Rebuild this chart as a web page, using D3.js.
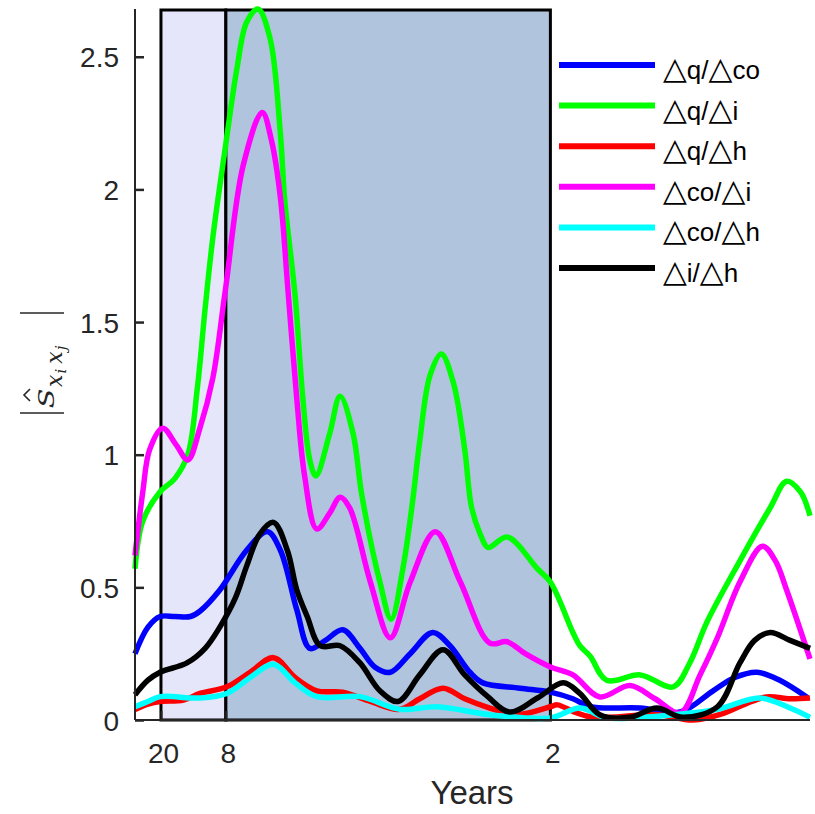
<!DOCTYPE html>
<html><head><meta charset="utf-8">
<script src="https://cdn.jsdelivr.net/npm/d3@7"></script>
<style>body{margin:0;background:#fff}svg{display:block}</style>
</head><body>
<script>
// ---- data (x = frequency in cycles per year) ----
const tickYears = [20, 8, 2];
const tickLabels = ["20", "8", "2"];
const bandYears = [[20, 8], [8, 2]];
const bandColors = ["#e6e6fa", "#b0c4de"];
const yTicks = [0, 0.5, 1, 1.5, 2, 2.5];
const yTickLabels = ["0", "0.5", "1", "1.5", "2", "2.5"];

const seriesNames = ["q/co", "q/i", "q/h", "co/i", "co/h", "i/h"];
const seriesColors = ["#0000ff", "#00ff00", "#ff0000", "#ff00ff", "#00ffff", "#000000"];

const fBlue  = [0.020,0.035,0.049,0.066,0.084,0.095,0.118,0.149,0.173,0.188,0.207,0.222,0.240,0.260,0.280,0.297,0.315,0.338,0.364,0.384,0.407,0.422,0.465,0.500,0.526,0.546,0.604,0.650,0.688,0.713,0.739,0.765,0.797];
const vBlue  = [0.25,0.35,0.39,0.39,0.39,0.41,0.49,0.64,0.71,0.64,0.415,0.27,0.30,0.34,0.27,0.20,0.18,0.25,0.33,0.28,0.18,0.14,0.12,0.105,0.08,0.05,0.045,0.03,0.11,0.16,0.18,0.15,0.085];

const fGreen = [0.020,0.029,0.049,0.066,0.081,0.092,0.101,0.110,0.124,0.138,0.149,0.162,0.176,0.188,0.193,0.205,0.214,0.222,0.229,0.245,0.257,0.272,0.282,0.303,0.316,0.330,0.341,0.349,0.361,0.374,0.388,0.401,0.409,0.419,0.428,0.450,0.485,0.500,0.526,0.534,0.546,0.565,0.604,0.642,0.661,0.681,0.719,0.754,0.773,0.789,0.800];
const vGreen = [0.57,0.75,0.86,0.91,1.00,1.25,1.55,1.82,2.15,2.46,2.63,2.68,2.57,2.21,1.96,1.60,1.21,0.98,0.92,1.08,1.22,1.08,0.85,0.52,0.38,0.58,0.83,1.05,1.30,1.38,1.27,1.02,0.80,0.70,0.65,0.69,0.57,0.52,0.33,0.28,0.24,0.15,0.17,0.125,0.215,0.37,0.60,0.80,0.90,0.86,0.77];

const fRed   = [0.020,0.035,0.049,0.076,0.095,0.126,0.153,0.180,0.205,0.230,0.260,0.292,0.326,0.349,0.376,0.401,0.430,0.461,0.500,0.508,0.528,0.549,0.623,0.665,0.700,0.725,0.750,0.777,0.800];
const vRed   = [0.04,0.06,0.07,0.075,0.10,0.125,0.18,0.235,0.16,0.11,0.105,0.07,0.04,0.08,0.12,0.08,0.045,0.02,0.05,0.057,0.03,0.01,0.02,0.0,0.025,0.06,0.087,0.08,0.083];

const fMag   = [0.020,0.029,0.037,0.052,0.067,0.081,0.095,0.110,0.124,0.145,0.167,0.178,0.188,0.197,0.207,0.216,0.230,0.245,0.257,0.268,0.292,0.315,0.338,0.367,0.396,0.430,0.450,0.471,0.500,0.526,0.557,0.592,0.621,0.650,0.673,0.693,0.719,0.745,0.760,0.773,0.800];
const vMag   = [0.62,0.86,1.02,1.10,1.04,0.98,1.10,1.29,1.61,2.09,2.29,2.18,1.97,1.61,1.21,0.92,0.72,0.78,0.84,0.80,0.52,0.31,0.52,0.71,0.52,0.29,0.295,0.25,0.20,0.17,0.087,0.13,0.08,0.026,0.17,0.31,0.52,0.655,0.60,0.49,0.23];

const fCyan  = [0.020,0.035,0.049,0.095,0.126,0.153,0.180,0.205,0.230,0.280,0.326,0.369,0.430,0.500,0.534,0.565,0.604,0.642,0.693,0.742,0.777,0.800];
const vCyan  = [0.05,0.07,0.088,0.083,0.10,0.16,0.21,0.14,0.088,0.088,0.04,0.05,0.02,0.008,0.045,0.008,0.01,0.02,0.04,0.083,0.045,0.01];

const fBlack = [0.020,0.035,0.049,0.080,0.101,0.118,0.136,0.149,0.164,0.180,0.196,0.207,0.219,0.234,0.257,0.280,0.303,0.324,0.349,0.376,0.401,0.427,0.453,0.485,0.515,0.534,0.557,0.592,0.623,0.653,0.693,0.719,0.736,0.754,0.777,0.800];
const vBlack = [0.095,0.15,0.18,0.215,0.27,0.35,0.46,0.58,0.70,0.745,0.64,0.49,0.39,0.28,0.28,0.215,0.11,0.07,0.17,0.265,0.17,0.09,0.03,0.083,0.14,0.10,0.02,0.01,0.045,0.01,0.05,0.215,0.30,0.33,0.30,0.27];

const seriesF = [fBlue, fGreen, fRed, fMag, fCyan, fBlack];
const seriesV = [vBlue, vGreen, vRed, vMag, vCyan, vBlack];

// ---- drawing ----
const W = 815, H = 814;
const svg = d3.select("body").append("svg").attr("width", W).attr("height", H);
const x = d3.scaleLinear().domain([0.02, 0.8]).range([135, 810]);
const y = d3.scaleLinear().domain([0, 2.68]).range([720, 9]);
const axisColor = "#262626";
const font = "'Liberation Sans', Arial, Helvetica, sans-serif";

// shaded bands
svg.append("g").selectAll("rect").data(bandYears).join("rect")
  .attr("x", d => x(1 / d[0]))
  .attr("width", d => x(1 / d[1]) - x(1 / d[0]))
  .attr("y", y(2.68) + 1)
  .attr("height", y(0) - y(2.68) - 1)
  .attr("fill", (d, i) => bandColors[i])
  .attr("stroke", "#000").attr("stroke-width", 3);

// lines
const line = d3.line().x(d => x(d[0])).y(d => y(d[1])).curve(d3.curveCatmullRom.alpha(0.5));
svg.append("g").selectAll("path").data(seriesF.map((f, i) => f.map((fv, j) => [fv, seriesV[i][j]])))
  .join("path")
  .attr("d", line)
  .attr("fill", "none")
  .attr("stroke", (d, i) => seriesColors[i])
  .attr("stroke-width", 5.5)
  .attr("stroke-linejoin", "round");

// y axis
const yAxis = svg.append("g").attr("transform", "translate(135,0)")
  .call(d3.axisLeft(y).tickValues(yTicks).tickFormat((d, i) => yTickLabels[i]).tickSize(-9).tickPadding(16));
yAxis.select(".domain").attr("stroke", axisColor).attr("stroke-width", 2).attr("d", `M0,${y(2.68)}V${y(0)}`);
yAxis.selectAll(".tick line").attr("stroke", axisColor).attr("stroke-width", 2.5);
yAxis.selectAll(".tick text").attr("font-family", font).attr("font-size", 28).attr("fill", axisColor).attr("dy", "0.36em");

// x axis
const xAxis = svg.append("g").attr("transform", "translate(0,720)")
  .call(d3.axisBottom(x).tickValues(tickYears.map(t => 1 / t)).tickFormat((d, i) => tickLabels[i]).tickSize(-9).tickPadding(0));
xAxis.select(".domain").attr("stroke", axisColor).attr("stroke-width", 2).attr("d", `M${x(0.02)},0H${x(0.8)}`);
xAxis.selectAll(".tick line").attr("stroke", axisColor).attr("stroke-width", 2);
xAxis.selectAll(".tick text").attr("font-family", font).attr("font-size", 28).attr("fill", axisColor)
  .attr("dy", null).attr("y", 43).attr("dx", 2);

svg.append("text").attr("x", 472).attr("y", 804).attr("text-anchor", "middle")
  .attr("font-family", font).attr("font-size", 33).attr("fill", axisColor).text("Years");

// y label |Ŝ_{x_i x_j}|
const yl = svg.append("g").attr("transform", "translate(54,363) rotate(-90)");
const serif = "'DejaVu Serif', 'Liberation Serif', serif";
yl.append("text").attr("x", -35.5 / 1.25).attr("y", 0).attr("text-anchor", "middle")
  .attr("transform", "scale(1.25,1)")
  .attr("font-family", serif).attr("font-style", "italic").attr("font-size", 23).attr("fill", axisColor).text("S");
yl.append("path").attr("d", "M-38,-24L-32,-30L-26,-24").attr("fill", "none").attr("stroke", axisColor).attr("stroke-width", 1.6);
const sub = yl.append("text").attr("x", -24).attr("y", 8).attr("font-family", serif).attr("font-style", "italic").attr("fill", axisColor);
sub.append("tspan").attr("font-size", 22).text("x");
sub.append("tspan").attr("font-size", 15).attr("dy", 4).attr("dx", 1).text("i");
sub.append("tspan").attr("font-size", 22).attr("dy", -4).attr("dx", 5).text("x");
sub.append("tspan").attr("font-size", 15).attr("dy", 4).attr("dx", 1).text("j");
[-50, 50].forEach(lx => yl.append("line").attr("x1", lx).attr("x2", lx).attr("y1", -34).attr("y2", 10)
  .attr("stroke", axisColor).attr("stroke-width", 1.6));

// legend
const leg = svg.append("g");
seriesNames.forEach((name, i) => {
  const ly = 65 + i * 40.6;
  leg.append("line").attr("x1", 559).attr("x2", 655).attr("y1", ly).attr("y2", ly)
    .attr("stroke", seriesColors[i]).attr("stroke-width", 6);
  const parts = name.split("/");
  const t = leg.append("text").attr("x", 663).attr("y", ly + 14).attr("font-family", font).attr("font-size", 26).attr("fill", "#000");
  t.append("tspan").attr("font-family", "'DejaVu Sans', sans-serif").attr("font-size", 31).text("△");
  t.append("tspan").text(parts[0] + "/");
  t.append("tspan").attr("font-family", "'DejaVu Sans', sans-serif").attr("font-size", 31).text("△");
  t.append("tspan").text(parts[1]);
});
</script>
</body></html>
